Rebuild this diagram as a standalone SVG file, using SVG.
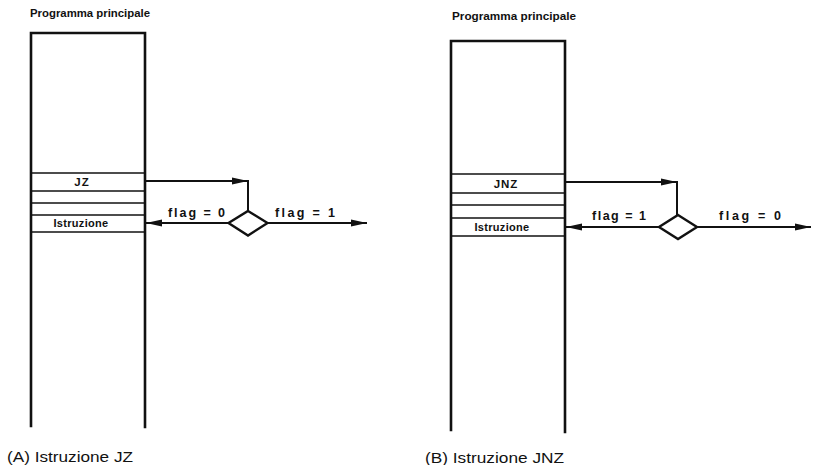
<svg xmlns="http://www.w3.org/2000/svg" width="813" height="465" viewBox="0 0 813 465">
<style>
  .bar { stroke:#111; stroke-width:2.6; fill:none; stroke-linecap:square; }
  .row { stroke:#111; stroke-width:1.5; fill:none; }
  .conn { stroke:#111; stroke-width:2; fill:none; }
  .dia { stroke:#111; stroke-width:2.4; fill:#fff; stroke-linejoin:miter; }
  .title { font-family:"Liberation Sans", Arial, sans-serif; font-weight:bold; font-size:10px; fill:#111; }
  .cell { font-family:"Liberation Sans", Arial, sans-serif; font-weight:bold; font-size:11px; fill:#111; text-anchor:middle; letter-spacing:0.3px; }
  .op { font-family:"Liberation Sans", Arial, sans-serif; font-weight:bold; font-size:11.5px; fill:#111; text-anchor:middle; letter-spacing:1px; }
  .flag { font-family:"Liberation Sans", Arial, sans-serif; font-weight:bold; font-size:12.5px; fill:#111; }
  .cap { font-family:"Liberation Sans", Arial, sans-serif; font-size:15px; fill:#111; }
</style>
<defs>
  <marker id="ah" markerUnits="userSpaceOnUse" markerWidth="17" markerHeight="9" refX="16" refY="4.5" orient="auto">
    <path d="M0,1 L16,4.5 L0,8 Z" fill="#111"/>
  </marker>
</defs>

<g id="panelA">
  <text class="title" x="30" y="17" textLength="120" lengthAdjust="spacingAndGlyphs">Programma principale</text>
  <g id="memA">
    <path class="bar" d="M31,426 L31,33 L145,33 L145,427"/>
    <line class="row" x1="31" y1="173" x2="145" y2="173"/>
    <line class="row" x1="31" y1="191" x2="145" y2="191"/>
    <line class="row" x1="31" y1="203" x2="145" y2="203" stroke-width="1.2"/>
    <line class="row" x1="31" y1="215" x2="145" y2="215"/>
    <line class="row" x1="31" y1="232" x2="145" y2="232"/>
    <text class="op" x="82" y="186">JZ</text>
    <text class="cell" x="81" y="227">Istruzione</text>
  </g>
  <g id="decA">
    <polygon class="dia" points="248,211 267.5,223 248,235.5 228.5,223"/>
  </g>
  <g id="connA">
    <path class="conn" d="M145,181 L248,181" marker-end="url(#ah)"/>
    <line class="conn" x1="248" y1="180" x2="248" y2="211"/>
    <path class="conn" d="M228.5,223 L146,223" marker-end="url(#ah)"/>
    <path class="conn" d="M267.5,223 L367,223" marker-end="url(#ah)"/>
  </g>
  <text class="flag" x="168" y="217" textLength="57" lengthAdjust="spacing">flag = 0</text>
  <text class="flag" x="275" y="217" textLength="60" lengthAdjust="spacing">flag = 1</text>
  <text class="cap" x="7" y="462" textLength="126" lengthAdjust="spacingAndGlyphs">(A) Istruzione JZ</text>
</g>

<g id="panelB">
  <text class="title" x="452" y="20" textLength="124" lengthAdjust="spacingAndGlyphs">Programma principale</text>
  <g id="memB">
    <path class="bar" d="M451,430 L451,41 L565,41 L565,432"/>
    <line class="row" x1="451" y1="174" x2="565" y2="174"/>
    <line class="row" x1="451" y1="193" x2="565" y2="193"/>
    <line class="row" x1="451" y1="205" x2="565" y2="205"/>
    <line class="row" x1="451" y1="218" x2="565" y2="218"/>
    <line class="row" x1="451" y1="236" x2="565" y2="236"/>
    <text class="op" x="506" y="188">JNZ</text>
    <text class="cell" x="502" y="231">Istruzione</text>
  </g>
  <g id="decB">
    <polygon class="dia" points="678,215 697,227 678,239 659,227"/>
  </g>
  <g id="connB">
    <path class="conn" d="M565,182 L677,182" marker-end="url(#ah)"/>
    <line class="conn" x1="677" y1="181" x2="677" y2="215"/>
    <path class="conn" d="M659,227 L566,227" marker-end="url(#ah)"/>
    <path class="conn" d="M697,227 L811,227" marker-end="url(#ah)"/>
  </g>
  <text class="flag" x="592" y="220" textLength="54" lengthAdjust="spacing">flag = 1</text>
  <text class="flag" x="719" y="220" textLength="62" lengthAdjust="spacing">flag = 0</text>
  <text class="cap" x="425" y="463" textLength="139" lengthAdjust="spacingAndGlyphs">(B) Istruzione JNZ</text>
</g>
</svg>
